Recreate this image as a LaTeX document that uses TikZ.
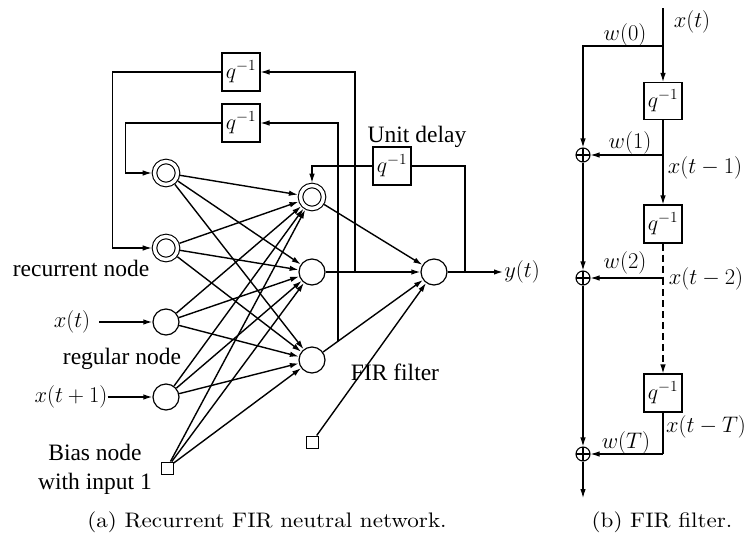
\RequirePackage{fix-cm}
\documentclass[tikz,border=0pt]{standalone}
\usepackage{fontspec}
\newfontfamily\tms{Liberation Serif}
\newfontfamily\lmten{lmroman10-regular}[Extension=.otf]
\usetikzlibrary{arrows.meta,calc}
\begin{document}
\begin{tikzpicture}[x=1pt,y=-1pt,
  every node/.style={inner sep=0pt},
  ln/.style={line width=1.4pt},
  arr/.style={ln,-{Latex[length=9pt,width=5.5pt]}},
  fb/.style={line width=1.1pt},
  fbarr/.style={fb,-{Latex[length=9pt,width=5.5pt]}},
  dsh/.style={fb,dash pattern=on 7pt off 4pt},
  dsharr/.style={dsh,-{Latex[length=9pt,width=5.5pt]}},
  neuron/.style={circle,draw,line width=1.2pt,minimum size=26pt},
  rneuron/.style={circle,draw,line width=1.1pt,double,double distance=3.4pt,minimum size=23pt,outer sep=2.8pt},
  bias/.style={rectangle,draw,line width=1pt,minimum size=12pt},
  dbox/.style={rectangle,draw,line width=1.1pt,minimum width=38pt,minimum height=38pt,font=\fontsize{22}{24}\selectfont},
  plus/.style={circle,draw,line width=1.1pt,minimum size=14pt,
    path picture={\draw[line width=1.1pt] (path picture bounding box.north) -- (path picture bounding box.south)
      (path picture bounding box.west) -- (path picture bounding box.east);}},
  tx/.style={font=\tms\fontsize{23.5}{26}\selectfont},
  mth/.style={font=\fontsize{22.5}{24}\selectfont},
  captxt/.style={font=\lmten\fontsize{21}{23}\selectfont,xscale=1.1}
]
\useasboundingbox (0,0) rectangle (749,538);

% ---------- (a) network ----------
\node[dbox] (d1) at (241,72) {$q^{-1}$};
\node[dbox] (d2) at (241,123) {$q^{-1}$};
\node[rneuron] (r1) at (166,173) {};
\node[rneuron] (r2) at (166,248) {};
\node[neuron] (i1) at (166,322) {};
\node[neuron] (i2) at (166,397) {};
\node[bias] (b1) at (167,468) {};
\node[rneuron] (h1) at (312,197) {};
\node[neuron] (h2) at (312,272) {};
\node[neuron] (h3) at (312,360) {};
\node[neuron] (o) at (434,272) {};
\node[bias] (b2) at (312,442) {};
\node[dbox] (ud) at (392,166) {$q^{-1}$};

\node[tx] (lrec) at (81,268) {recurrent node};
\node[mth] (lxt) at (72,322) {$x(t)$};
\node[tx] (lreg) at (122,359) {regular node};
\node[mth] (lxt1) at (71,397) {$x(t+1)$};
\node[tx] (lb1) at (95,452) {Bias node};
\node[tx] (lb2) at (95,484) {with input 1};
\node[tx] (lud) at (417,137) {Unit delay};
\node[tx] (lfir) at (395,372) {FIR filter};
\node[mth] (ly) at (522,272) {$y(t)$};

\foreach \s in {r1,r2,i1,i2,b1}
  \foreach \t in {h1,h2,h3}
    \draw[arr] (\s) -- (\t);

\draw[arr] ($(lxt.east)+(9,0)$) -- (i1);
\draw[arr] (lxt1.east) -- (i2);

\draw[fbarr] (d1.west) -- ++(-109,0) |- (r2.west);
\draw[fbarr] (d2.west) -- ++(-96,0) |- (r1.west);

\draw[arr] (h2) -- (o);
\draw[arr] (h3) -- (o);
\draw[arr] (h1) -- (o);
\draw[arr] (b2) -- (o);

\coordinate (c1) at (355,272);
\draw[fbarr] (c1) |- (d1.east);
\coordinate (va) at (338,0);
\coordinate (vb) at (338,500);
\coordinate (c2) at (intersection of h3--o and va--vb);
\draw[fbarr] (c2) |- (d2.east);

\coordinate (yend) at (503,272);
\draw[arr] (o) -- (yend);
\coordinate (c3) at (465,272);
\draw[fb] (c3) |- (ud.east);
\draw[fbarr] (ud.west) -| (h1.north);

% ---------- (b) FIR filter ----------
\coordinate (xtop) at (663,8);
\node[dbox,minimum height=37pt] (f1) at (663,101) {$q^{-1}$};
\node[dbox,minimum height=38pt] (f2) at (663,224) {$q^{-1}$};
\node[dbox,minimum height=38pt] (f3) at (663,393) {$q^{-1}$};
\node[plus] (p1) at (583,155) {};
\node[plus] (p2) at (583,278) {};
\node[plus] (p3) at (583,454) {};
\coordinate (j0) at (663,46);
\coordinate (j1) at (663,155);
\coordinate (j2) at (663,278);
\coordinate (j3) at (663,454);
\coordinate (pend) at (583,498);

\draw[fbarr] (xtop) -- (f1.north);
\draw[fbarr] (j0) -| (p1.north);
\draw[fbarr] (f1.south) -- (f2.north);
\draw[fbarr] (j1) -- (p1.east);
\draw[dsh] (f2.south) -- (j2);
\draw[dsharr] (j2) -- (f3.north);
\draw[fbarr] (j2) -- (p2.east);
\draw[fb] (f3.south) -- (j3);
\draw[fbarr] (j3) -- (p3.east);
\draw[fbarr] (p1.south) -- (p2.north);
\draw[fbarr] (p2.south) -- (p3.north);
\draw[fbarr] (p3.south) -- (pend);

\node[mth] (lw0) at (625,35) {$w(0)$};
\node[mth] (lx0) at (692,22) {$x(t)$};
\node[mth] (lw1) at (630,143) {$w(1)$};
\node[mth] (lx1) at (705,168) {$x(t-1)$};
\node[mth] (lw2) at (625,263) {$w(2)$};
\node[mth] (lx2) at (706,279) {$x(t-2)$};
\node[mth] (lwT) at (626,443) {$w(T)$};
\node[mth] (lxT) at (706,427) {$x(t-T)$};

\node[captxt] (capa) at (267,522) {(a) Recurrent FIR neutral network.};
\node[captxt] (capb) at (662,522) {(b) FIR filter.};
\end{tikzpicture}
\end{document}
